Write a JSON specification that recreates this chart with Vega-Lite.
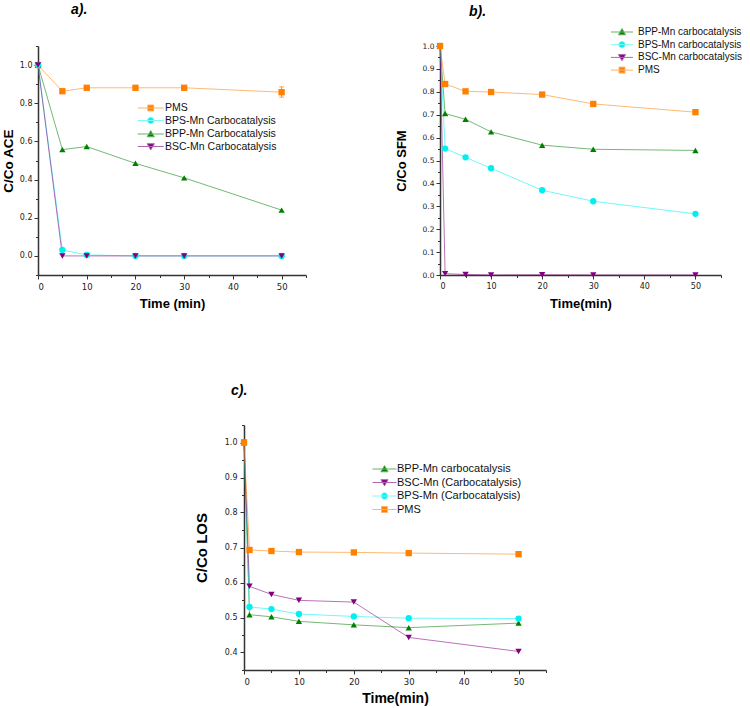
{
  "$schema": "https://vega.github.io/schema/vega-lite/v6.json",
  "padding": {"left": 1, "top": 2, "right": 0, "bottom": 0},
  "spacing": 72,
  "resolve": {"scale": {"color": "independent"}},
  "config": {
    "view": {"stroke": null},
    "axis": {"grid": false, "domainColor": "#333", "domainWidth": 1.5, "tickColor": "#333", "tickWidth": 1, "labelFont": "DejaVu Sans", "labelFontSize": 8, "labelColor": "#222", "titleFont": "Liberation Sans", "titleFontWeight": "bold", "titleColor": "#000", "titleFontSize": 13},
    "legend": {"labelFont": "Liberation Sans", "labelFontSize": 10.5, "labelColor": "#111", "padding": 0, "rowPadding": 1.5, "symbolSize": 64, "symbolStrokeWidth": 1, "symbolOpacity": 1, "labelOffset": 9, "labelLimit": 300}
  },
  "vconcat": [
    {
      "spacing": 88,
      "resolve": {"scale": {"color": "independent"}},
      "hconcat": [
        {
          "width": 268, "height": 229,
          "title": {"text": "a).", "anchor": "start", "frame": "group", "dx": 33, "offset": 29, "font": "Liberation Sans", "fontSize": 14, "fontStyle": "italic", "fontWeight": "bold", "color": "#000"},
          "data": {"values": [
            {"series": "PMS", "t": 0, "v": 1.0}, {"series": "PMS", "t": 5, "v": 0.863}, {"series": "PMS", "t": 10, "v": 0.881}, {"series": "PMS", "t": 20, "v": 0.881}, {"series": "PMS", "t": 30, "v": 0.881}, {"series": "PMS", "t": 50, "v": 0.858},
            {"series": "BPP-Mn Carbocatalysis", "t": 0, "v": 1.0}, {"series": "BPP-Mn Carbocatalysis", "t": 5, "v": 0.557}, {"series": "BPP-Mn Carbocatalysis", "t": 10, "v": 0.573}, {"series": "BPP-Mn Carbocatalysis", "t": 20, "v": 0.485}, {"series": "BPP-Mn Carbocatalysis", "t": 30, "v": 0.409}, {"series": "BPP-Mn Carbocatalysis", "t": 50, "v": 0.24},
            {"series": "BPS-Mn Carbocatalysis", "t": 0, "v": 1.0}, {"series": "BPS-Mn Carbocatalysis", "t": 5, "v": 0.031}, {"series": "BPS-Mn Carbocatalysis", "t": 10, "v": 0.005}, {"series": "BPS-Mn Carbocatalysis", "t": 20, "v": 0.0}, {"series": "BPS-Mn Carbocatalysis", "t": 30, "v": 0.0}, {"series": "BPS-Mn Carbocatalysis", "t": 50, "v": 0.0},
            {"series": "BSC-Mn Carbocatalysis", "t": 0, "v": 1.0}, {"series": "BSC-Mn Carbocatalysis", "t": 5, "v": 0.0}, {"series": "BSC-Mn Carbocatalysis", "t": 10, "v": 0.0}, {"series": "BSC-Mn Carbocatalysis", "t": 20, "v": 0.0}, {"series": "BSC-Mn Carbocatalysis", "t": 30, "v": 0.0}, {"series": "BSC-Mn Carbocatalysis", "t": 50, "v": 0.0}
          ]},
          "encoding": {
            "x": {"field": "t", "type": "quantitative", "title": "Time (min)", "scale": {"domain": [0, 55], "nice": false, "zero": false},
              "axis": {"values": [0, 5, 10, 15, 20, 25, 30, 35, 40, 45, 50, 55], "labelExpr": "datum.value % 10 == 0 && datum.value <= 50 ? format(datum.value, 'd') : ''", "tickSize": {"condition": {"test": "datum.value % 10 == 0", "value": 4}, "value": 2.5}, "labelPadding": 3, "titlePadding": 7, "labelFontSize": 8.5}},
            "y": {"field": "v", "type": "quantitative", "title": "C/Co ACE", "scale": {"domain": [-0.1, 1.1], "nice": false, "zero": false},
              "axis": {"values": [-0.1, 0, 0.1, 0.2, 0.3, 0.4, 0.5, 0.6, 0.7, 0.8, 0.9, 1.0, 1.1], "labelExpr": "round(datum.value * 10) % 2 == 0 ? format(datum.value, '.1f') : ''", "tickSize": {"condition": {"test": "round(datum.value * 10) % 2 == 0", "value": 4}, "value": 2.5}, "labelPadding": 2, "titlePadding": 3.5, "titleFontSize": 13.5}}
          },
          "layer": [
            {"mark": {"type": "line", "strokeWidth": 1, "opacity": 0.55},
             "encoding": {"color": {"field": "series", "type": "nominal", "legend": null, "scale": {"domain": ["PMS", "BPS-Mn Carbocatalysis", "BPP-Mn Carbocatalysis", "BSC-Mn Carbocatalysis"], "range": ["#FF8000", "#00F0F0", "#008000", "#800080"]}}}},
            {"mark": {"type": "point", "filled": true, "size": 40, "opacity": 1},
             "encoding": {"color": {"field": "series", "type": "nominal", "legend": null, "scale": {"domain": ["PMS", "BPS-Mn Carbocatalysis", "BPP-Mn Carbocatalysis", "BSC-Mn Carbocatalysis"], "range": ["#FF8000", "#00F0F0", "#008000", "#800080"]}},
                          "shape": {"field": "series", "type": "nominal", "legend": null, "scale": {"domain": ["PMS", "BPS-Mn Carbocatalysis", "BPP-Mn Carbocatalysis", "BSC-Mn Carbocatalysis"], "range": ["square", "circle", "triangle-up", "triangle-down"]}}}},
            {"data": {"values": [{"t": 50, "lo": 0.832, "hi": 0.886}]},
             "mark": {"type": "errorbar", "ticks": true, "color": "#FF8000"},
             "encoding": {"y": {"field": "lo", "type": "quantitative", "title": "C/Co ACE"}, "y2": {"field": "hi"}}},
            {"transform": [{"filter": "false"}],
             "mark": {"type": "point", "filled": true, "strokeWidth": 1, "opacity": 1},
             "encoding": {
               "fill": {"field": "series", "type": "nominal", "scale": {"domain": ["PMS", "BPS-Mn Carbocatalysis", "BPP-Mn Carbocatalysis", "BSC-Mn Carbocatalysis"], "range": ["#FF8000", "#00F0F0", "#008000", "#800080"]}, "legend": {"title": null, "orient": "none", "legendX": 107.5, "legendY": 56.75}},
               "stroke": {"field": "series", "type": "nominal", "scale": {"domain": ["PMS", "BPS-Mn Carbocatalysis", "BPP-Mn Carbocatalysis", "BSC-Mn Carbocatalysis"], "range": ["#FFB366", "#80F8F8", "#66B366", "#B366B3"]}, "legend": {"title": null, "orient": "none", "legendX": 107.5, "legendY": 56.75}},
               "shape": {"field": "series", "type": "nominal", "scale": {"domain": ["PMS", "BPS-Mn Carbocatalysis", "BPP-Mn Carbocatalysis", "BSC-Mn Carbocatalysis"], "range": ["M-3.25,0H3.25M-0.75,-0.75H0.75V0.75H-0.75Z", "M-3.25,0H3.25M0.8,0A0.8,0.8,0,1,1,-0.8,0A0.8,0.8,0,1,1,0.8,0Z", "M-3.25,0H3.25M0,-0.85L0.9,0.7H-0.9Z", "M-3.25,0H3.25M0,0.85L0.9,-0.7H-0.9Z"]}, "legend": {"title": null, "orient": "none", "legendX": 107.5, "legendY": 56.75}}
             }}
          ],
          "resolve": {"scale": {"shape": "independent", "fill": "independent", "stroke": "independent"}}
        },
        {
          "width": 281, "height": 229,
          "title": {"text": "b).", "anchor": "start", "frame": "group", "dx": 29, "offset": 8, "font": "Liberation Sans", "fontSize": 14, "fontStyle": "italic", "fontWeight": "bold", "color": "#000"},
          "data": {"values": [
            {"series": "BPP-Mn carbocatalysis", "t": 0, "v": 1.0}, {"series": "BPP-Mn carbocatalysis", "t": 1, "v": 0.705}, {"series": "BPP-Mn carbocatalysis", "t": 5, "v": 0.68}, {"series": "BPP-Mn carbocatalysis", "t": 10, "v": 0.625}, {"series": "BPP-Mn carbocatalysis", "t": 20, "v": 0.567}, {"series": "BPP-Mn carbocatalysis", "t": 30, "v": 0.549}, {"series": "BPP-Mn carbocatalysis", "t": 50, "v": 0.544},
            {"series": "BPS-Mn carbocatalysis", "t": 0, "v": 1.0}, {"series": "BPS-Mn carbocatalysis", "t": 1, "v": 0.552}, {"series": "BPS-Mn carbocatalysis", "t": 5, "v": 0.514}, {"series": "BPS-Mn carbocatalysis", "t": 10, "v": 0.466}, {"series": "BPS-Mn carbocatalysis", "t": 20, "v": 0.37}, {"series": "BPS-Mn carbocatalysis", "t": 30, "v": 0.322}, {"series": "BPS-Mn carbocatalysis", "t": 50, "v": 0.267},
            {"series": "BSC-Mn carbocatalysis", "t": 0, "v": 1.0}, {"series": "BSC-Mn carbocatalysis", "t": 1, "v": 0.006}, {"series": "BSC-Mn carbocatalysis", "t": 5, "v": 0.002}, {"series": "BSC-Mn carbocatalysis", "t": 10, "v": 0.0}, {"series": "BSC-Mn carbocatalysis", "t": 20, "v": 0.001}, {"series": "BSC-Mn carbocatalysis", "t": 30, "v": 0.0}, {"series": "BSC-Mn carbocatalysis", "t": 50, "v": 0.0},
            {"series": "PMS", "t": 0, "v": 1.0}, {"series": "PMS", "t": 1, "v": 0.834}, {"series": "PMS", "t": 5, "v": 0.802}, {"series": "PMS", "t": 10, "v": 0.799}, {"series": "PMS", "t": 20, "v": 0.788}, {"series": "PMS", "t": 30, "v": 0.747}, {"series": "PMS", "t": 50, "v": 0.711}
          ]},
          "encoding": {
            "x": {"field": "t", "type": "quantitative", "title": "Time(min)", "scale": {"domain": [0, 55], "nice": false, "zero": false},
              "axis": {"values": [0, 5, 10, 15, 20, 25, 30, 35, 40, 45, 50, 55], "labelExpr": "datum.value % 10 == 0 && datum.value <= 50 ? format(datum.value, 'd') : ''", "tickSize": {"condition": {"test": "datum.value % 10 == 0", "value": 4}, "value": 2.5}, "labelPadding": 3, "titlePadding": 7.5, "labelFontSize": 8}},
            "y": {"field": "v", "type": "quantitative", "title": "C/Co SFM", "scale": {"domain": [0, 1], "nice": false, "zero": false},
              "axis": {"values": [0, 0.05, 0.1, 0.15, 0.2, 0.25, 0.3, 0.35, 0.4, 0.45, 0.5, 0.55, 0.6, 0.65, 0.7, 0.75, 0.8, 0.85, 0.9, 0.95, 1.0], "labelExpr": "round(datum.value * 100) % 10 == 0 ? format(datum.value, '.1f') : ''", "tickSize": {"condition": {"test": "round(datum.value * 100) % 10 == 0", "value": 4}, "value": 2.5}, "labelPadding": 2, "titlePadding": 14, "labelFontSize": 7.5}}
          },
          "layer": [
            {"mark": {"type": "line", "strokeWidth": 1, "opacity": 0.55},
             "encoding": {"color": {"field": "series", "type": "nominal", "legend": null, "scale": {"domain": ["BPP-Mn carbocatalysis", "BPS-Mn carbocatalysis", "BSC-Mn carbocatalysis", "PMS"], "range": ["#008000", "#00F0F0", "#800080", "#FF8000"]}}}},
            {"mark": {"type": "point", "filled": true, "size": 40, "opacity": 1},
             "encoding": {"color": {"field": "series", "type": "nominal", "legend": null, "scale": {"domain": ["BPP-Mn carbocatalysis", "BPS-Mn carbocatalysis", "BSC-Mn carbocatalysis", "PMS"], "range": ["#008000", "#00F0F0", "#800080", "#FF8000"]}},
                          "shape": {"field": "series", "type": "nominal", "legend": null, "scale": {"domain": ["BPP-Mn carbocatalysis", "BPS-Mn carbocatalysis", "BSC-Mn carbocatalysis", "PMS"], "range": ["triangle-up", "circle", "triangle-down", "square"]}}}},
            {"transform": [{"filter": "false"}],
             "mark": {"type": "point", "filled": true, "strokeWidth": 1, "opacity": 1},
             "encoding": {
               "fill": {"field": "series", "type": "nominal", "scale": {"domain": ["BPP-Mn carbocatalysis", "BPS-Mn carbocatalysis", "BSC-Mn carbocatalysis", "PMS"], "range": ["#008000", "#00F0F0", "#800080", "#FF8000"]}, "legend": {"title": null, "orient": "none", "legendX": 177, "legendY": -19, "labelFontSize": 10, "labelOffset": 11, "rowPadding": 1.7}},
               "stroke": {"field": "series", "type": "nominal", "scale": {"domain": ["BPP-Mn carbocatalysis", "BPS-Mn carbocatalysis", "BSC-Mn carbocatalysis", "PMS"], "range": ["#66B366", "#80F8F8", "#B366B3", "#FFB366"]}, "legend": {"title": null, "orient": "none", "legendX": 177, "legendY": -19, "labelFontSize": 10, "labelOffset": 11, "rowPadding": 1.7}},
               "shape": {"field": "series", "type": "nominal", "scale": {"domain": ["BPP-Mn carbocatalysis", "BPS-Mn carbocatalysis", "BSC-Mn carbocatalysis", "PMS"], "range": ["M-2.75,0H2.75M0,-0.85L0.9,0.7H-0.9Z", "M-2.75,0H2.75M0.8,0A0.8,0.8,0,1,1,-0.8,0A0.8,0.8,0,1,1,0.8,0Z", "M-2.75,0H2.75M0,0.85L0.9,-0.7H-0.9Z", "M-2.75,0H2.75M-0.75,-0.75H0.75V0.75H-0.75Z"]}, "legend": {"title": null, "orient": "none", "legendX": 177, "legendY": -19, "labelFontSize": 10, "labelOffset": 11, "rowPadding": 1.7}}
             }}
          ],
          "resolve": {"scale": {"shape": "independent", "fill": "independent", "stroke": "independent"}}
        }
      ]
    },
    {
      "spacing": 0,
      "resolve": {"scale": {"color": "independent"}},
      "hconcat": [
        {"width": 155.5, "height": 1, "data": {"values": []}, "mark": "point"},
        {
          "width": 302, "height": 245,
          "title": {"text": "c).", "anchor": "start", "frame": "group", "dx": -13, "offset": 27, "font": "Liberation Sans", "fontSize": 14, "fontStyle": "italic", "fontWeight": "bold", "color": "#000"},
          "data": {"values": [
            {"series": "BPP-Mn carbocatalysis", "t": 0, "v": 1.0}, {"series": "BPP-Mn carbocatalysis", "t": 1, "v": 0.508}, {"series": "BPP-Mn carbocatalysis", "t": 5, "v": 0.502}, {"series": "BPP-Mn carbocatalysis", "t": 10, "v": 0.489}, {"series": "BPP-Mn carbocatalysis", "t": 20, "v": 0.479}, {"series": "BPP-Mn carbocatalysis", "t": 30, "v": 0.471}, {"series": "BPP-Mn carbocatalysis", "t": 50, "v": 0.484},
            {"series": "BPS-Mn (Carbocatalysis)", "t": 0, "v": 1.0}, {"series": "BPS-Mn (Carbocatalysis)", "t": 1, "v": 0.53}, {"series": "BPS-Mn (Carbocatalysis)", "t": 5, "v": 0.524}, {"series": "BPS-Mn (Carbocatalysis)", "t": 10, "v": 0.51}, {"series": "BPS-Mn (Carbocatalysis)", "t": 20, "v": 0.503}, {"series": "BPS-Mn (Carbocatalysis)", "t": 30, "v": 0.498}, {"series": "BPS-Mn (Carbocatalysis)", "t": 50, "v": 0.497},
            {"series": "BSC-Mn (Carbocatalysis)", "t": 0, "v": 1.0}, {"series": "BSC-Mn (Carbocatalysis)", "t": 1, "v": 0.589}, {"series": "BSC-Mn (Carbocatalysis)", "t": 5, "v": 0.566}, {"series": "BSC-Mn (Carbocatalysis)", "t": 10, "v": 0.549}, {"series": "BSC-Mn (Carbocatalysis)", "t": 20, "v": 0.544}, {"series": "BSC-Mn (Carbocatalysis)", "t": 30, "v": 0.443}, {"series": "BSC-Mn (Carbocatalysis)", "t": 50, "v": 0.403},
            {"series": "PMS", "t": 0, "v": 1.0}, {"series": "PMS", "t": 1, "v": 0.693}, {"series": "PMS", "t": 5, "v": 0.69}, {"series": "PMS", "t": 10, "v": 0.687}, {"series": "PMS", "t": 20, "v": 0.686}, {"series": "PMS", "t": 30, "v": 0.684}, {"series": "PMS", "t": 50, "v": 0.681}
          ]},
          "encoding": {
            "x": {"field": "t", "type": "quantitative", "title": "Time(min)", "scale": {"domain": [0, 55], "nice": false, "zero": false},
              "axis": {"values": [0, 5, 10, 15, 20, 25, 30, 35, 40, 45, 50, 55], "labelExpr": "datum.value % 10 == 0 && datum.value <= 50 ? format(datum.value, 'd') : ''", "tickSize": {"condition": {"test": "datum.value % 10 == 0", "value": 4}, "value": 2.5}, "labelPadding": 3, "titlePadding": 6, "labelFontSize": 8.5, "titleFontSize": 14}},
            "y": {"field": "v", "type": "quantitative", "title": "C/Co LOS", "scale": {"domain": [0.35, 1.05], "nice": false, "zero": false},
              "axis": {"values": [0.35, 0.4, 0.45, 0.5, 0.55, 0.6, 0.65, 0.7, 0.75, 0.8, 0.85, 0.9, 0.95, 1.0, 1.05], "labelExpr": "round(datum.value * 100) % 10 == 0 ? format(datum.value, '.1f') : ''", "tickSize": {"condition": {"test": "round(datum.value * 100) % 10 == 0", "value": 4}, "value": 2.5}, "labelPadding": 3, "titlePadding": 15, "titleFontSize": 15}}
          },
          "layer": [
            {"mark": {"type": "line", "strokeWidth": 1, "opacity": 0.55},
             "encoding": {"color": {"field": "series", "type": "nominal", "legend": null, "scale": {"domain": ["BPP-Mn carbocatalysis", "BSC-Mn (Carbocatalysis)", "BPS-Mn (Carbocatalysis)", "PMS"], "range": ["#008000", "#800080", "#00F0F0", "#FF8000"]}}}},
            {"mark": {"type": "point", "filled": true, "size": 40, "opacity": 1},
             "encoding": {"color": {"field": "series", "type": "nominal", "legend": null, "scale": {"domain": ["BPP-Mn carbocatalysis", "BSC-Mn (Carbocatalysis)", "BPS-Mn (Carbocatalysis)", "PMS"], "range": ["#008000", "#800080", "#00F0F0", "#FF8000"]}},
                          "shape": {"field": "series", "type": "nominal", "legend": null, "scale": {"domain": ["BPP-Mn carbocatalysis", "BSC-Mn (Carbocatalysis)", "BPS-Mn (Carbocatalysis)", "PMS"], "range": ["triangle-up", "triangle-down", "circle", "square"]}}}},
            {"transform": [{"filter": "false"}],
             "mark": {"type": "point", "filled": true, "strokeWidth": 1, "opacity": 1},
             "encoding": {
               "fill": {"field": "series", "type": "nominal", "scale": {"domain": ["BPP-Mn carbocatalysis", "BSC-Mn (Carbocatalysis)", "BPS-Mn (Carbocatalysis)", "PMS"], "range": ["#008000", "#800080", "#00F0F0", "#FF8000"]}, "legend": {"title": null, "orient": "none", "legendX": 135, "legendY": 38.5, "rowPadding": 1.5, "labelOffset": 7, "labelFontSize": 11}},
               "stroke": {"field": "series", "type": "nominal", "scale": {"domain": ["BPP-Mn carbocatalysis", "BSC-Mn (Carbocatalysis)", "BPS-Mn (Carbocatalysis)", "PMS"], "range": ["#66B366", "#B366B3", "#80F8F8", "#FFB366"]}, "legend": {"title": null, "orient": "none", "legendX": 135, "legendY": 38.5, "rowPadding": 1.5, "labelOffset": 7, "labelFontSize": 11}},
               "shape": {"field": "series", "type": "nominal", "scale": {"domain": ["BPP-Mn carbocatalysis", "BSC-Mn (Carbocatalysis)", "BPS-Mn (Carbocatalysis)", "PMS"], "range": ["M-3,0H3M0,-0.85L0.9,0.7H-0.9Z", "M-3,0H3M0,0.85L0.9,-0.7H-0.9Z", "M-3,0H3M0.8,0A0.8,0.8,0,1,1,-0.8,0A0.8,0.8,0,1,1,0.8,0Z", "M-3,0H3M-0.75,-0.75H0.75V0.75H-0.75Z"]}, "legend": {"title": null, "orient": "none", "legendX": 135, "legendY": 38.5, "rowPadding": 1.5, "labelOffset": 7, "labelFontSize": 11}}
             }}
          ],
          "resolve": {"scale": {"shape": "independent", "fill": "independent", "stroke": "independent"}}
        }
      ]
    }
  ]
}
